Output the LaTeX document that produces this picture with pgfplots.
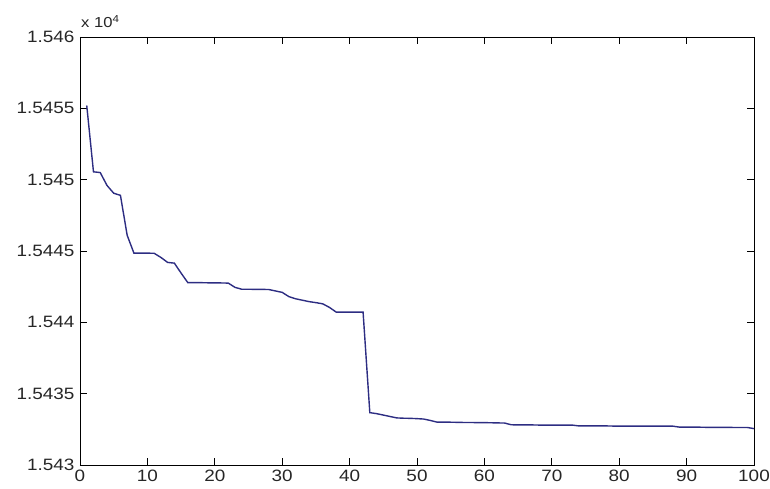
\documentclass[border=0pt]{standalone}
\usepackage{pgfplots}
\pgfplotsset{compat=1.18}
\usepackage{fontspec}
\setmainfont{Liberation Sans}[FakeStretch=1.15]
\definecolor{linecol}{RGB}{45,45,130}
\begin{document}
\begin{tikzpicture}
\begin{axis}[
  scale only axis,
  width=674bp, height=428bp,
  xmin=0, xmax=100, ymin=15430, ymax=15460,
  xtick={0,10,...,100},
  ytick={15430,15435,15440,15445,15450,15455,15460},
  yticklabels={1.543,1.5435,1.544,1.5445,1.545,1.5455,1.546},
  scaled y ticks=false,
  tick align=inside,
  major tick length=7bp,
  axis line style={line width=0.8bp},
  tick style={black, line width=0.8bp},
  /pgf/number format/assume math mode=true,
  ticklabel style={font=\fontsize{16.5}{18}\selectfont, text=black!85},
  xticklabel style={yshift=-2bp},
  yticklabel style={xshift=-2bp},
  clip=false,
]
\coordinate (SW) at (rel axis cs:0,0);
\coordinate (NE) at (rel axis cs:1,1);
\addplot[color=linecol, line width=1.4bp] coordinates {
(1,15455.2) (2,15450.55) (3,15450.5) (4,15449.6) (5,15449.05) (6,15448.9)
(7,15446.1) (8,15444.85) (9,15444.85) (10,15444.85) (11,15444.84)
(12,15444.55) (13,15444.2) (14,15444.15) (15,15443.45) (16,15442.78)
(17,15442.78) (18,15442.78) (19,15442.77) (20,15442.77) (21,15442.76) (22,15442.75)
(23,15442.45) (24,15442.32) (25,15442.32) (26,15442.31) (27,15442.31) (28,15442.3)
(29,15442.2) (30,15442.1) (31,15441.8) (32,15441.65) (33,15441.55) (34,15441.45)
(35,15441.38) (36,15441.3) (37,15441.05) (38,15440.72) (39,15440.72) (40,15440.72)
(41,15440.72) (42,15440.72) (43,15433.67) (44,15433.6) (45,15433.5) (46,15433.4)
(47,15433.3) (48,15433.28) (49,15433.27) (50,15433.25) (51,15433.22) (52,15433.12)
(53,15433.0) (54,15433.0) (55,15433.0) (56,15432.99) (57,15432.98) (58,15432.98)
(59,15432.97) (60,15432.97) (61,15432.96) (62,15432.95) (63,15432.94) (64,15432.82)
(65,15432.81) (66,15432.81) (67,15432.81) (68,15432.8) (69,15432.8) (70,15432.8)
(71,15432.8) (72,15432.8) (73,15432.8) (74,15432.74) (75,15432.74) (76,15432.74)
(77,15432.74) (78,15432.74) (79,15432.73) (80,15432.73) (81,15432.73) (82,15432.73)
(83,15432.73) (84,15432.72) (85,15432.72) (86,15432.72) (87,15432.72) (88,15432.72)
(89,15432.65) (90,15432.65) (91,15432.65) (92,15432.65) (93,15432.64) (94,15432.64)
(95,15432.64) (96,15432.64) (97,15432.63) (98,15432.63) (99,15432.63) (100,15432.55)
};
\node[anchor=base west, inner sep=0pt, font=\fontsize{14.5}{16}\selectfont, text=black!85]
  at ([xshift=1bp,yshift=9bp]rel axis cs:0,1) {x 10\textsuperscript{4}};
\end{axis}
\pgfresetboundingbox
\path[use as bounding box] ([shift={(-80bp,-24bp)}]SW) rectangle ([shift={(16bp,37bp)}]NE);
\end{tikzpicture}
\end{document}
